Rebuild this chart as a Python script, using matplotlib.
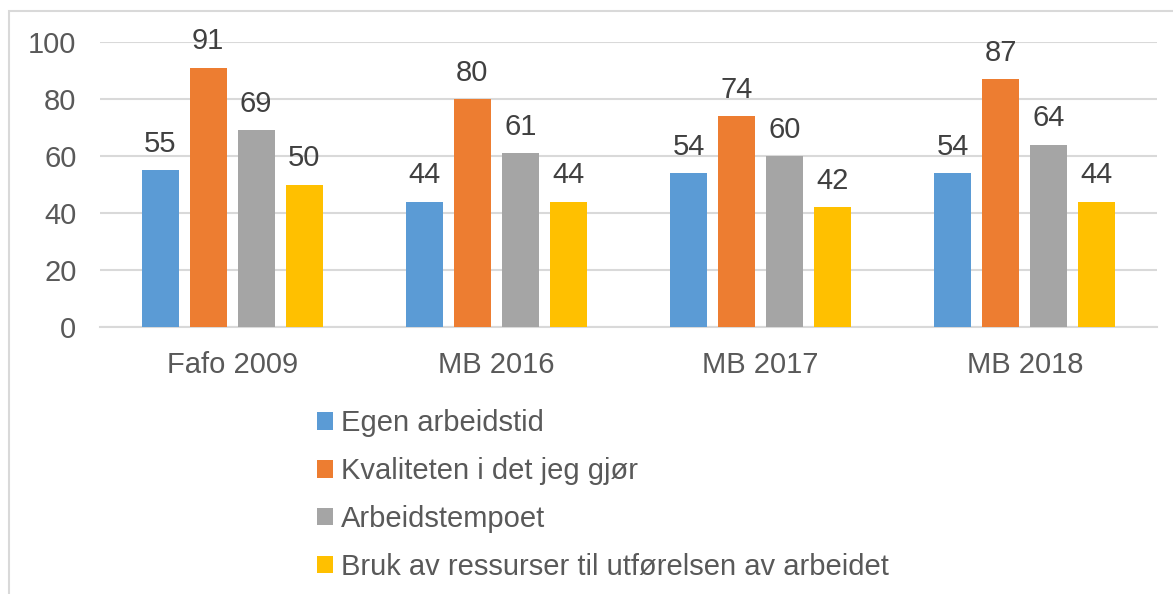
import numpy as np
import matplotlib.pyplot as plt
from matplotlib.patches import Rectangle

plt.rcParams['font.family'] = ['Liberation Sans', 'DejaVu Sans']

# =====================
# data
# =====================
groups = ["Fafo 2009", "MB 2016", "MB 2017", "MB 2018"]
series_names = [
    "Egen arbeidstid",
    "Kvaliteten i det jeg gjør",
    "Arbeidstempoet",
    "Bruk av ressurser til utførelsen av arbeidet",
]
egen = [55, 44, 54, 54]
kvalitet = [91, 80, 74, 87]
tempo = [69, 61, 60, 64]
ressurser = [50, 44, 42, 44]

colors = ["#5B9BD5", "#ED7D31", "#A5A5A5", "#FFC000"]

# =====================
# figure
# =====================
W, H = 1173, 594
fig = plt.figure(figsize=(W / 100, H / 100), dpi=100)
ax = fig.add_axes([100 / W, 1 - 327 / H, (1157 - 100) / W, (327 - 42) / H])

x = np.arange(len(groups))
bar_w = 37 / 264
step = 48 / 264

bars = []
for i, (vals, name) in enumerate(zip([egen, kvalitet, tempo, ressurser], series_names)):
    pos = x + (i - 1.5) * step
    b = ax.bar(pos, vals, width=bar_w, color=colors[i], label=name, zorder=3)
    bars.append(b)
    for p, v in zip(pos, vals):
        ax.text(p, v + 4.3, str(v), ha="center", va="bottom", fontsize=21, color="#404040")

ax.set_xlim(-0.5, len(groups) - 0.5)
ax.set_ylim(0, 100)
ax.set_yticks(range(0, 101, 20))
ax.set_xticks(x)
ax.set_xticklabels(groups)
ax.tick_params(axis="both", length=0, labelsize=21, labelcolor="#595959")
ax.tick_params(axis="y", pad=17)
ax.tick_params(axis="x", pad=17)
ax.grid(axis="y", color="#D9D9D9", linewidth=1.5, zorder=0)
for s in ["top", "right", "left"]:
    ax.spines[s].set_visible(False)
ax.spines["bottom"].set_color("#D9D9D9")
ax.spines["bottom"].set_linewidth(1.5)

# legend
leg = fig.legend(
    handles=bars,
    labels=series_names,
    loc="upper left",
    bbox_to_anchor=(291 / W, 1 - 383 / H),
    frameon=False,
    fontsize=21,
    labelcolor="#595959",
    handlelength=0.55,
    handleheight=0.55,
    handletextpad=0.25,
    labelspacing=0.68,
)

# chart border (cropped)
fig.patches.append(Rectangle((9 / W, -0.1), 1.2, 1 - 11 / H + 0.1, transform=fig.transFigure,
                             fill=False, edgecolor="#D9D9D9", linewidth=1.5))

fig.savefig("out.png", dpi=100)
